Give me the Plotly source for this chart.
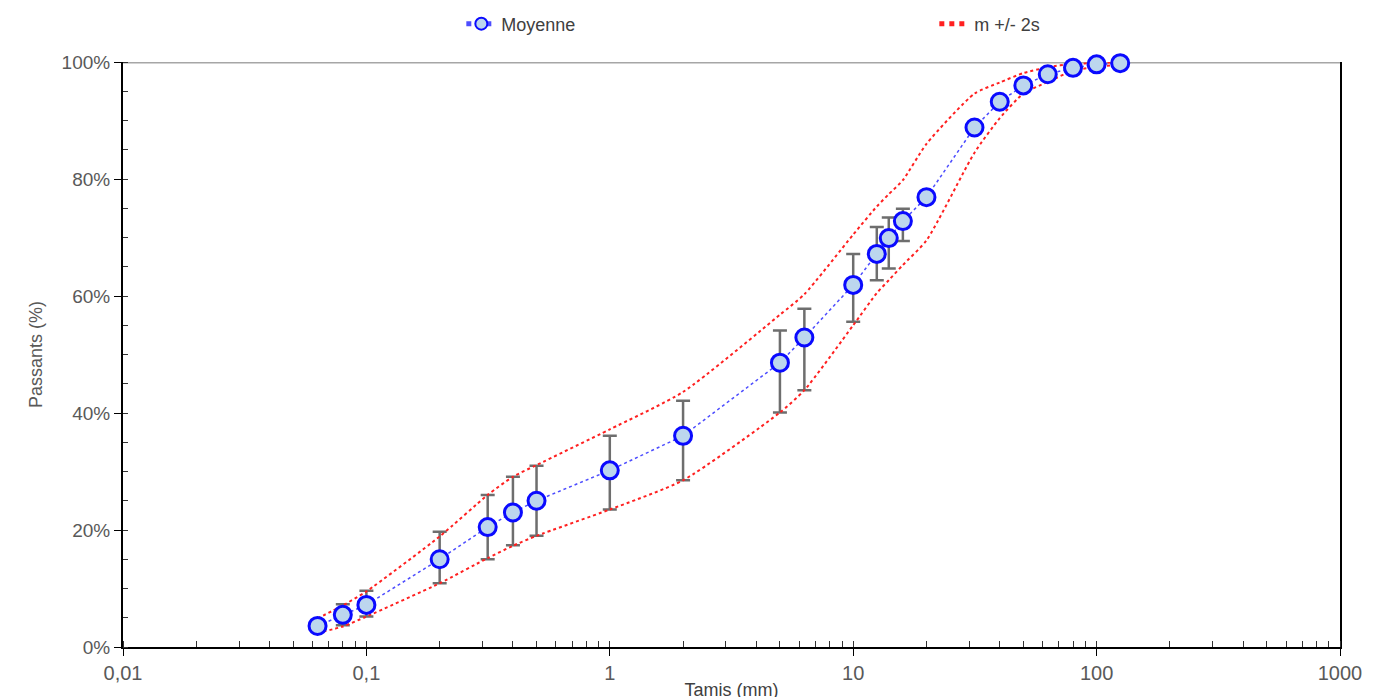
import plotly.graph_objects as go

# ---- data ----
sieves = [0.063, 0.08, 0.1, 0.2, 0.315, 0.4, 0.5, 1, 2, 5, 6.3, 10, 12.5, 14, 16, 20,
          31.5, 40, 50, 63, 80, 100, 125]
mean = [3.6, 5.5, 7.2, 15.0, 20.5, 23.0, 25.0, 30.2, 36.1, 48.6, 52.9, 61.9, 67.2, 69.9,
        72.8, 76.9, 88.8, 93.2, 96.0, 97.9, 99.0, 99.6, 99.8]
upper = [4.9, 7.1, 9.5, 18.9, 26.0, 29.1, 31.1, 37.2, 43.6, 56.8, 60.3, 70.5, 75.3, 77.4,
         79.8, 86.0, 94.6, 96.5, 98.1, 99.1, 99.7, 99.8, 100.0]
lower = [2.4, 3.5, 5.2, 10.9, 15.2, 17.3, 19.0, 23.5, 28.5, 40.1, 43.9, 55.0, 60.5, 62.7,
         65.3, 69.5, 84.5, 90.4, 94.6, 96.6, 98.5, 99.2, 99.5]

# error bars (min / max) where visible
err_sieves = [0.08, 0.1, 0.2, 0.315, 0.4, 0.5, 1, 2, 5, 6.3, 10, 12.5, 14, 16]
err_mean = [5.5, 7.2, 15.0, 20.5, 23.0, 25.0, 30.2, 36.1, 48.6, 52.9, 61.9, 67.2, 69.9, 72.8]
err_top = [7.3, 9.6, 19.7, 26.0, 29.1, 31.0, 36.1, 42.1, 54.1, 57.8, 67.2, 71.8, 73.4, 74.9]
err_bot = [3.7, 5.2, 10.9, 15.0, 17.4, 19.0, 23.5, 28.5, 40.1, 43.9, 55.6, 62.7, 64.7, 69.4]

x_tickvals = [0.01, 0.1, 1, 10, 100, 1000]
x_ticktext = ["0,01", "0,1", "1", "10", "100", "1000"]
y_tickvals = [0, 20, 40, 60, 80, 100]
y_ticktext = ["0%", "20%", "40%", "60%", "80%", "100%"]

FONT = "Liberation Sans, Arial, sans-serif"

fig = go.Figure()

fig.add_trace(go.Scatter(
    x=err_sieves, y=err_mean, mode="markers",
    marker=dict(size=1, opacity=0),
    error_y=dict(type="data", symmetric=False,
                 array=[t - m for t, m in zip(err_top, err_mean)],
                 arrayminus=[m - b for b, m in zip(err_bot, err_mean)],
                 color="#6e6e6e", thickness=2.5, width=7),
    showlegend=False, hoverinfo="skip", cliponaxis=False))

fig.add_trace(go.Scatter(
    x=sieves, y=upper, mode="lines", name="m +/- 2s", legendgroup="s", legendrank=2,
    line=dict(color="#ff2020", width=2, dash="dot", shape="spline", smoothing=0.6),
    cliponaxis=False))
fig.add_trace(go.Scatter(
    x=sieves, y=lower, mode="lines", name="m +/- 2s", legendgroup="s", showlegend=False,
    line=dict(color="#ff2020", width=2, dash="dot", shape="spline", smoothing=0.6),
    cliponaxis=False))

fig.add_trace(go.Scatter(
    x=sieves, y=mean, mode="lines+markers", name="Moyenne", legendrank=1,
    line=dict(color="#4d4dff", width=1.5, dash="dot"),
    marker=dict(symbol="circle", size=17, color="#bcd6ee",
                line=dict(color="#0a0aff", width=3)),
    cliponaxis=False))

fig.update_layout(
    width=1380, height=697,
    paper_bgcolor="white", plot_bgcolor="white",
    margin=dict(l=115, r=48, t=54, b=58, autoexpand=False),
    font=dict(family=FONT, size=18, color="#595959"),
    showlegend=True,
    legend=dict(orientation="h", x=0.278, xanchor="left", y=1.065, yanchor="middle",
                entrywidth=428, entrywidthmode="pixels", itemsizing="constant",
                font=dict(family=FONT, size=18, color="#404040"),
                traceorder="normal", bgcolor="rgba(0,0,0,0)"),
    xaxis=dict(type="log", range=[-2, 3], tickvals=x_tickvals, ticktext=x_ticktext,
               showgrid=False, zeroline=False,
               showline=True, linecolor="black", linewidth=2, mirror=False,
               ticks="outside", ticklen=7, tickcolor="black", tickwidth=1,
               minor=dict(ticks="inside", ticklen=6, tickcolor="#333333", dtick="D1", showgrid=False),
               tickfont=dict(size=20, color="#595959"),
               title=dict(text="Tamis (mm)", standoff=0, font=dict(size=18, color="#404040"))),
    yaxis=dict(range=[0, 100], tickvals=y_tickvals, ticktext=y_ticktext,
               showgrid=False, zeroline=False,
               showline=True, linecolor="black", linewidth=2, mirror=True,
               ticks="outside", ticklen=7, tickcolor="black", tickwidth=1,
               minor=dict(ticks="inside", ticklen=5, tickcolor="#333333", dtick=5, showgrid=False),
               tickfont=dict(size=19, color="#595959"),
               title=dict(text="Passants (%)", standoff=14, font=dict(size=18, color="#595959"))),
    shapes=[dict(type="line", xref="paper", yref="y", x0=0, x1=1, y0=100, y1=100,
                 line=dict(color="#a6a6a6", width=3), layer="below")],
)

fig.write_html("out.html")
